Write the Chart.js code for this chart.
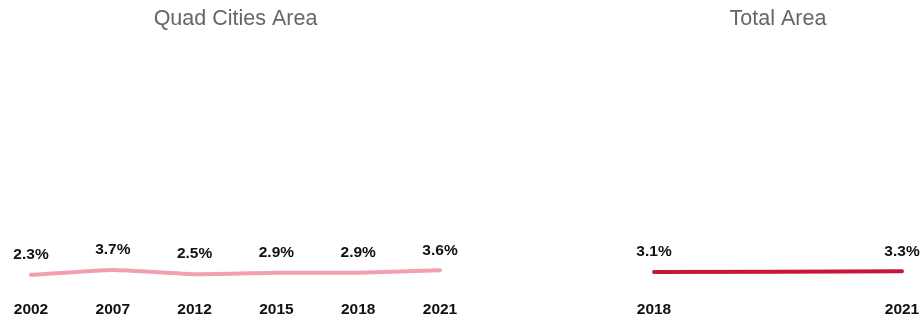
<!DOCTYPE html>
<html>
<head>
<meta charset="utf-8">
<script src="https://cdn.jsdelivr.net/npm/chart.js@4"></script>
<style>
  html, body { margin: 0; padding: 0; background: #fff; }
  .box { position: absolute; top: 0; height: 320px; }
</style>
</head>
<body>
<div class="box" style="left:0;width:470px"><canvas id="grafico_Quad"></canvas></div>
<div class="box" style="left:634px;width:288px"><canvas id="grafico_Total"></canvas></div>
<script>
const quadYears = ['2002', '2007', '2012', '2015', '2018', '2021'];
const quadValues = [2.3, 3.7, 2.5, 2.9, 2.9, 3.6];
const totalYears = ['2018', '2021'];
const totalValues = [3.1, 3.3];

const fonte = '"Liberation Sans", Arial, sans-serif';

// draws "x.x%" above every point
const rotulos = {
  id: 'rotulos',
  afterDatasetsDraw(chart) {
    const ctx = chart.ctx;
    ctx.save();
    ctx.font = 'bold 15.5px ' + fonte;
    ctx.fillStyle = '#111';
    ctx.textAlign = 'center';
    ctx.textBaseline = 'middle';
    chart.getDatasetMeta(0).data.forEach((pt, i) => {
      const v = chart.data.datasets[0].data[i];
      ctx.fillText(v.toFixed(1) + '%', pt.x, pt.y - 20);
    });
    ctx.restore();
  }
};

function montar(id, titulo, anos, valores, cor, pad) {
  return new Chart(document.getElementById(id).getContext('2d'), {
    type: 'line',
    data: {
      labels: anos,
      datasets: [{
        data: valores,
        borderColor: cor,
        borderWidth: 4,
        borderCapStyle: 'round',
        pointRadius: 0,
        tension: 0.15
      }]
    },
    options: {
      responsive: true,
      maintainAspectRatio: false,
      animation: false,
      layout: { padding: pad },
      plugins: {
        legend: { display: false },
        tooltip: { enabled: false },
        title: {
          display: true,
          text: titulo,
          color: '#666',
          font: { family: fonte, size: 21.5, weight: 'normal' },
          padding: { top: 6, bottom: 10 }
        }
      },
      scales: {
        y: { display: false, min: 0, max: 68 },
        x: {
          grid: { display: false, drawTicks: false },
          border: { display: false },
          afterFit(s) {
            s.height = 37;
            s.paddingLeft = 0;
            s.paddingRight = 0;
          },
          ticks: {
            color: '#111',
            padding: 17,
            maxRotation: 0,
            autoSkip: false,
            font: { family: fonte, size: 15.5, weight: 'bold' }
          }
        }
      }
    },
    plugins: [rotulos]
  });
}

montar('grafico_Quad', 'Quad Cities Area', quadYears, quadValues, '#F2A0AE', { left: 31, right: 30, top: 0, bottom: 0 });
montar('grafico_Total', 'Total Area', totalYears, totalValues, '#C8163B', { left: 20, right: 20, top: 0, bottom: 0 });
</script>
</body>
</html>
